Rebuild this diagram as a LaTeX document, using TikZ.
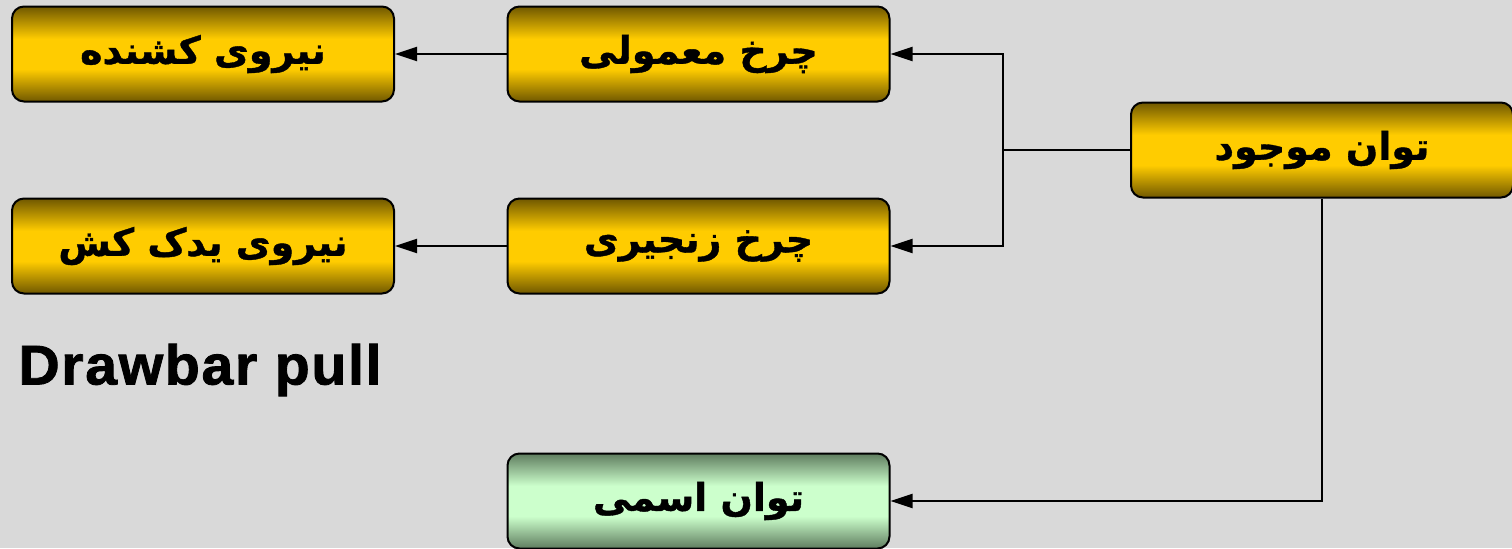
\documentclass[tikz,border=0pt]{standalone}
\usepackage{fontspec}
\setmainfont{Liberation Sans}
\newfontfamily\fa[Script=Arabic, BoldFeatures={FakeBold=1}]{DejaVu Sans}
\newfontfamily\blk[BoldFont={Liberation Sans Bold}, BoldFeatures={FakeBold=1.5, LetterSpace=3}]{Liberation Sans}
\TeXXeTstate=1
\usetikzlibrary{arrows.meta}
\definecolor{bg}{RGB}{217,217,217}
\definecolor{dgold}{RGB}{112,88,0}
\definecolor{gold}{RGB}{255,204,0}
\definecolor{dgreen}{RGB}{95,125,95}
\definecolor{lgreen}{RGB}{204,255,204}
\pgfdeclareverticalshading{goldsh}{100bp}{color(0bp)=(dgold); color(25bp)=(dgold); color(42bp)=(gold); color(58bp)=(gold); color(75bp)=(dgold); color(100bp)=(dgold)}
\pgfdeclareverticalshading{greensh}{100bp}{color(0bp)=(dgreen); color(25bp)=(dgreen); color(42bp)=(lgreen); color(58bp)=(lgreen); color(75bp)=(dgreen); color(100bp)=(dgreen)}
\begin{document}
\begin{tikzpicture}[x=0.5pt,y=-0.5pt,
  box/.style={draw=black, line width=1pt, rounded corners=6pt, minimum width=191pt, minimum height=47.5pt, inner sep=0pt, font=\fa\bfseries\fontsize{19}{21}\selectfont},
  goldbox/.style={box, shading=goldsh},
  greenbox/.style={box, shading=greensh},
  link/.style={line width=1pt},
  conn/.style={link, -{Triangle[length=11pt,width=7pt]}}]
\useasboundingbox (0,0) rectangle (1512,548);
\fill[bg] (0,0) rectangle (1512,548);
\node[goldbox] (A) at (203,54) {\beginR نیروی کشنده\endR};
\node[goldbox] (B) at (698.5,54) {\beginR چرخ معمولی\endR};
\node[goldbox] (C) at (1322,150) {\beginR توان موجود\endR};
\node[goldbox] (D) at (203,246) {\beginR نیروی یدک کش\endR};
\node[goldbox] (E) at (698.5,246) {\beginR چرخ زنجیری\endR};
\node[greenbox] (F) at (698.5,501) {\beginR توان اسمی\endR};
\node[font=\blk\bfseries\fontsize{28}{30}\selectfont] (T) at (200,370) {\scalebox{1.02}[1]{Drawbar pull}};
\coordinate (j) at (1003,150);
\draw[link] (C.west) -- (j);
\draw[conn] (j) |- (B.east);
\draw[conn] (j) |- (E.east);
\draw[conn] (B.west) -- (A.east);
\draw[conn] (E.west) -- (D.east);
\draw[conn] (C.south) |- (F.east);
\end{tikzpicture}
\end{document}
